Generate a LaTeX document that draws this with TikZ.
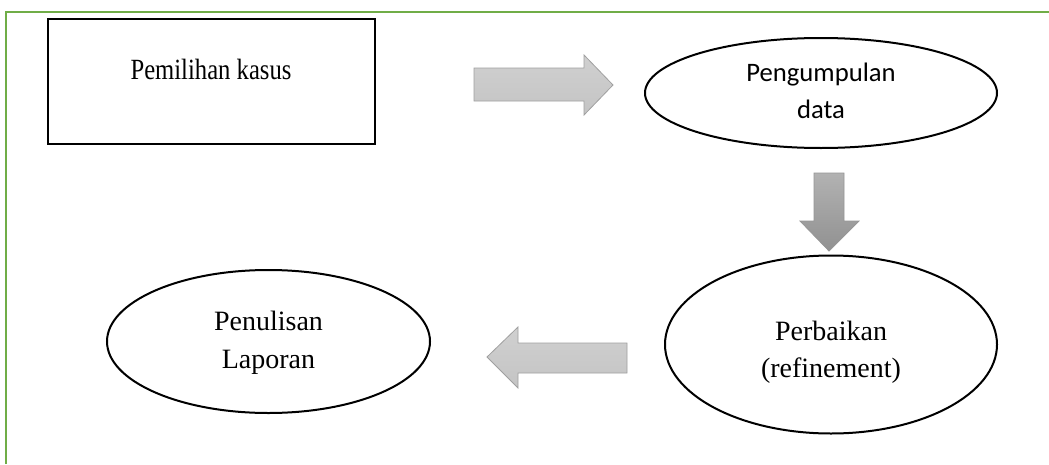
\documentclass[tikz,border=0pt]{standalone}
\usepackage{fontspec}
\setmainfont{Liberation Serif}
\newfontfamily\tnr[FakeStretch=0.84]{Liberation Serif}
\newfontfamily\calibri{Carlito}
\usetikzlibrary{shapes.geometric}
\begin{document}
\begin{tikzpicture}[x=0.75pt,y=-0.75pt,
  frameline/.style={draw={rgb,255:red,112;green,173;blue,71},line width=1.6pt},
  box/.style={draw=black,line width=1.5pt,rectangle,inner sep=0pt},
  oval/.style={draw=black,line width=1.5pt,ellipse,inner sep=0pt},
  lightarrow/.style={draw={rgb,255:red,160;green,160;blue,160},line width=0.6pt,
    top color={rgb,255:red,208;green,208;blue,208},bottom color={rgb,255:red,196;green,196;blue,196}},
  darkarrow/.style={draw={rgb,255:red,150;green,150;blue,150},line width=0.6pt,
    top color={rgb,255:red,178;green,178;blue,178},bottom color={rgb,255:red,145;green,145;blue,145}},
  boxtext/.style={font=\tnr\fontsize{22}{26}\selectfont,anchor=base,inner sep=0pt},
  serif/.style={font=\fontsize{21}{26}\selectfont,anchor=base,inner sep=0pt},
  sans/.style={font=\calibri\fontsize{20}{26}\selectfont,anchor=base,inner sep=0pt}
]
\useasboundingbox (0,0) rectangle (1049,464);
\fill[white] (0,0) rectangle (1049,464);
% green frame
\draw[frameline] (6,464) |- (1049,12);
% shapes
\node[box,minimum width=327pt*0.75,minimum height=125pt*0.75] (pk) at (211,81.5) {};
\node[oval,minimum width=352pt*0.75,minimum height=110pt*0.75] (pd) at (821,93) {};
\node[oval,minimum width=332pt*0.75,minimum height=178pt*0.75] (pr) at (831,344.5) {};
\node[oval,minimum width=323pt*0.75,minimum height=143pt*0.75] (pl) at (268.5,341.5) {};
% texts
\node[boxtext] (pk1) at (211,79) {Pemilihan kasus};
\node[sans] (pd1) at (821,81) {Pengumpulan};
\node[sans] (pd2) at (821,118) {data};
\node[serif] (pr1) at (831,340) {Perbaikan};
\node[serif] (pr2) at (831,377) {(refinement)};
\node[serif] (pl1) at (268.5,330) {Penulisan};
\node[serif] (pl2) at (268.5,368) {Laporan};
% block arrows
\path[lightarrow] (474,68) -- (584,68) -- (584,55) -- (613,85) -- (584,115) -- (584,101) -- (474,101) -- cycle;
\path[darkarrow] (814,173) -- (844,173) -- (844,221) -- (859,221) -- (829,251) -- (800,221) -- (814,221) -- cycle;
\path[lightarrow] (627,343) -- (518,343) -- (518,327) -- (487,357) -- (518,388) -- (518,373) -- (627,373) -- cycle;
\end{tikzpicture}
\end{document}
